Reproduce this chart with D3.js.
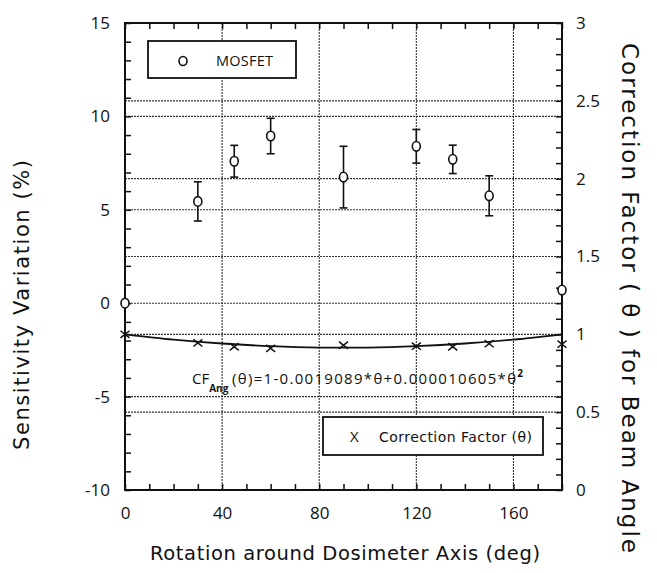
<!DOCTYPE html>
<html><head><meta charset="utf-8">
<script src="https://cdn.jsdelivr.net/npm/d3@7/dist/d3.min.js"></script>
<style>body{margin:0;background:#fff;} text{font-family:"Open Sans","DejaVu Sans",sans-serif;fill:#111;} .dv{font-family:"DejaVu Sans",sans-serif;}</style>
</head><body><svg id="c" width="657" height="573"></svg>
<script>
// Data
const angles = [0, 30, 45, 60, 90, 120, 135, 150, 180];
const mosfet = [0, 5.45, 7.6, 8.95, 6.75, 8.4, 7.7, 5.75, 0.7];
const mosfetErr = [0, 1.05, 0.85, 0.95, 1.65, 0.9, 0.76, 1.07, 0];
const cfAngles = [0, 30, 45, 60, 90, 120, 135, 150, 180];
const cfValues = [1.0, 0.945, 0.92, 0.91, 0.93, 0.924, 0.92, 0.94, 0.937];
const fitAngles = [0, 20, 40, 60, 80, 90, 100, 120, 140, 160, 180];
const fitValues = [1.0, 0.966, 0.941, 0.924, 0.915, 0.914, 0.915, 0.924, 0.941, 0.966, 1.0];
const xTicks = [0, 40, 80, 120, 160];
const yLeftTicks = [-10, -5, 0, 5, 10, 15];
const yRightTicks = [0, 0.5, 1, 1.5, 2, 2.5, 3];

const svg = d3.select("#c");
const L = 125, R = 562, T = 23, B = 490;
const x = d3.scaleLinear().domain([0, 180]).range([L, R]);
const yL = d3.scaleLinear().domain([-10, 15]).range([B, T]);
const yR = d3.scaleLinear().domain([0, 3]).range([B, T]);

const grid = svg.append("g").attr("stroke", "#333").attr("stroke-width", 1.1).attr("stroke-dasharray", "2,1");
xTicks.filter(d => d > 0).forEach(d => grid.append("line").attr("x1", x(d)).attr("x2", x(d)).attr("y1", T).attr("y2", B));
yLeftTicks.filter(d => d > -10 && d < 15).forEach(d => grid.append("line").attr("x1", L).attr("x2", R).attr("y1", yL(d)).attr("y2", yL(d)));
yRightTicks.filter(d => d > 0 && d < 3).forEach(d => grid.append("line").attr("x1", L).attr("x2", R).attr("y1", yR(d)).attr("y2", yR(d)));

// axes with inward ticks
function styleAxis(g){ g.select(".domain").remove(); g.selectAll("line").attr("stroke","#111").attr("stroke-width",1.5); g.selectAll("text").attr("font-size",17).style("font-family",'"Open Sans","DejaVu Sans",sans-serif'); }
svg.append("g").attr("transform",`translate(0,${B})`).call(d3.axisBottom(x).tickValues(d3.range(0,181,10)).tickSize(-6).tickFormat(d => xTicks.includes(d) ? d : "").tickPadding(17)).call(styleAxis);
svg.append("g").attr("transform",`translate(0,${T})`).call(d3.axisTop(x).tickValues(d3.range(0,181,10)).tickSize(-6).tickFormat("")).call(styleAxis);
svg.append("g").attr("transform",`translate(${L},0)`).call(d3.axisLeft(yL).tickValues(d3.range(-10,15.1,1)).tickSize(-6).tickFormat(d => yLeftTicks.includes(d) ? d : "").tickPadding(15)).call(styleAxis);
svg.append("g").attr("transform",`translate(${R},0)`).call(d3.axisRight(yR).tickValues(d3.range(0,30.1,1).map(d=>d/10)).tickSize(-6).tickFormat(d => yRightTicks.some(t=>Math.abs(t-d)<1e-9) ? d : "").tickPadding(14)).call(styleAxis);
svg.append("rect").attr("x",L).attr("y",T).attr("width",R-L).attr("height",B-T).attr("fill","none").attr("stroke","#111").attr("stroke-width",2);

// fit curve
svg.append("path").datum(fitAngles.map((a,i)=>[a,fitValues[i]]))
  .attr("d", d3.line().x(d=>x(d[0])).y(d=>yR(d[1])).curve(d3.curveMonotoneX))
  .attr("fill","none").attr("stroke","#111").attr("stroke-width",1.8);

// CF markers
const cf = svg.append("g").attr("stroke","#111").attr("stroke-width",1.5);
cfAngles.forEach((a,i)=>{ const cx=x(a), cy=yR(cfValues[i]), s=4.5;
  cf.append("line").attr("x1",cx-s).attr("x2",cx+s).attr("y1",cy-s*0.8).attr("y2",cy+s*0.8);
  cf.append("line").attr("x1",cx-s).attr("x2",cx+s).attr("y1",cy+s*0.8).attr("y2",cy-s*0.8);
});

// MOSFET error bars and circles
const mg = svg.append("g").attr("stroke","#111").attr("stroke-width",1.6).attr("fill","none");
angles.forEach((a,i)=>{ const cx=x(a); const e=mosfetErr[i];
  if(e>0){ mg.append("line").attr("x1",cx).attr("x2",cx).attr("y1",yL(mosfet[i]+e)).attr("y2",yL(mosfet[i]-e));
    [mosfet[i]+e, mosfet[i]-e].forEach(v=>mg.append("line").attr("x1",cx-4).attr("x2",cx+4).attr("y1",yL(v)).attr("y2",yL(v))); }
  mg.append("ellipse").attr("cx",cx).attr("cy",yL(mosfet[i])).attr("rx",4).attr("ry",4.8).attr("fill","#fff");
});

// legend MOSFET
svg.append("rect").attr("x",148).attr("y",41).attr("width",148).attr("height",37).attr("fill","#fff").attr("stroke","#111").attr("stroke-width",1.8);
svg.append("ellipse").attr("cx",183).attr("cy",61).attr("rx",4).attr("ry",4.5).attr("fill","none").attr("stroke","#111").attr("stroke-width",1.6);
svg.append("text").attr("x",216).attr("y",66).attr("font-size",14.5).attr("textLength",57).text("MOSFET");

// legend CF
svg.append("rect").attr("x",323).attr("y",417).attr("width",220).attr("height",38).attr("fill","#fff").attr("stroke","#111").attr("stroke-width",1.8);
svg.append("text").attr("x",350).attr("y",442).attr("font-size",15).text("X");
svg.append("text").attr("class","dv").attr("x",379).attr("y",442).attr("font-size",14).attr("textLength",153).text("Correction Factor (θ)");

// formula
const f = svg.append("text").attr("x",192).attr("y",384).attr("font-size",15);
f.append("tspan").text("CF");
f.append("tspan").attr("dy",8).attr("font-size",10).attr("font-weight","bold").text("Ang");
f.append("tspan").attr("x",232).attr("dy",-8).attr("textLength",284).text("(θ)=1-0.0019089*θ+0.000010605*θ");
f.append("tspan").attr("dy",-7).attr("font-size",10).attr("font-weight","bold").text("2");

// axis titles
svg.append("text").attr("class","dv").attr("transform","translate(29,305) rotate(-90)").attr("text-anchor","middle").attr("font-size",21).attr("textLength",290).text("Sensitivity Variation (%)");
svg.append("text").attr("class","dv").attr("transform","translate(622,298) rotate(90)").attr("text-anchor","middle").attr("font-size",23).attr("textLength",510).text("Correction Factor ( θ ) for Beam Angle");
svg.append("text").attr("class","dv").attr("x",345).attr("y",560).attr("text-anchor","middle").attr("font-size",19.5).attr("textLength",390).text("Rotation around Dosimeter Axis (deg)");
</script></body></html>
